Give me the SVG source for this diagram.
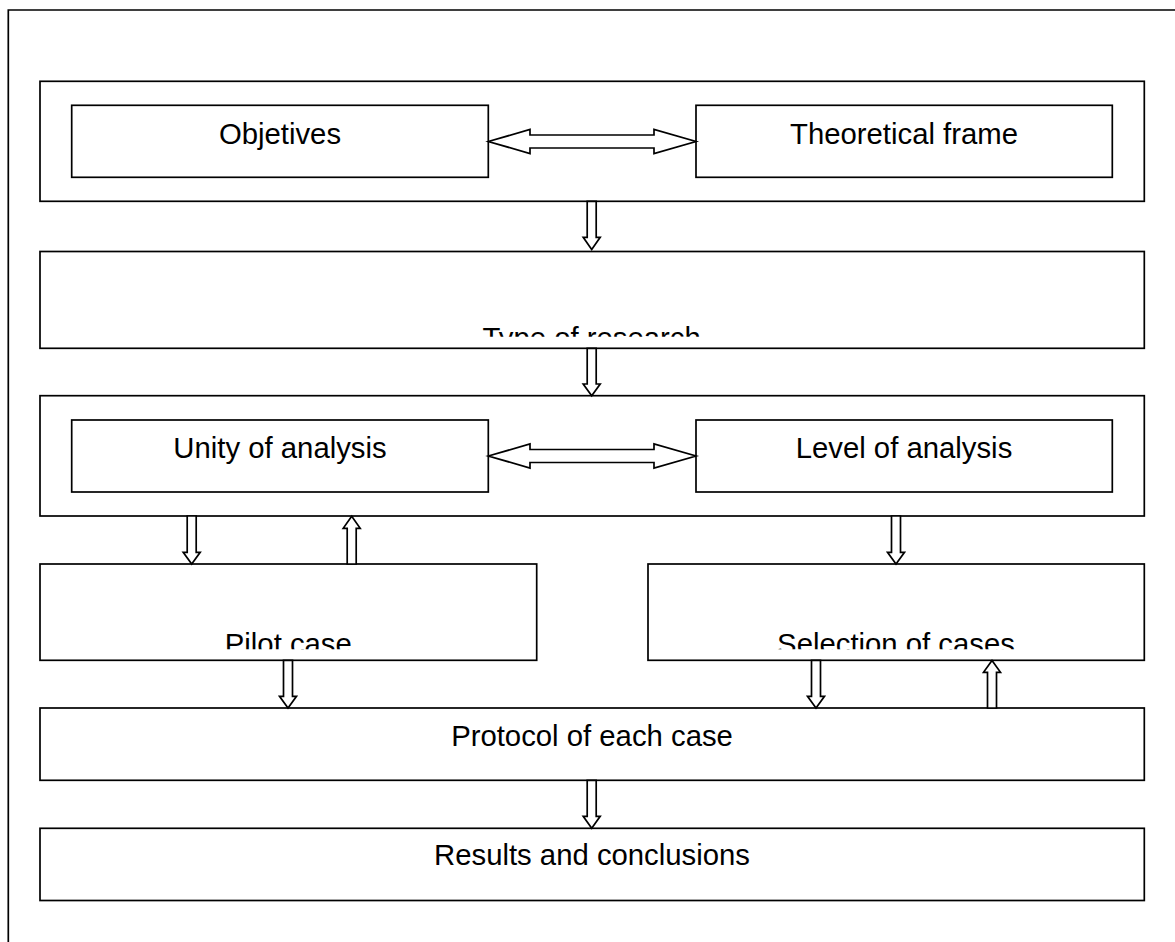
<svg xmlns="http://www.w3.org/2000/svg" width="1175" height="942" viewBox="0 0 1175 942">
<defs>
<style>
.box{fill:#fff;stroke:#000;stroke-width:1.7}
.arr{fill:#fff;stroke:#000;stroke-width:1.7;stroke-linejoin:miter}
.t{font-family:"Liberation Sans",Arial,sans-serif;font-size:29.3px;fill:#000;text-anchor:middle}
.frame{fill:none;stroke:#000;stroke-width:1.7}
</style>
<clipPath id="clipType"><rect x="40" y="250" width="1105" height="86.7"/></clipPath>
<clipPath id="clipPilot"><rect x="40" y="564" width="497" height="85.3"/></clipPath>
<clipPath id="clipSel"><rect x="648" y="564" width="497" height="85.3"/></clipPath>
</defs>
<rect width="1175" height="942" fill="#fff"/>
<path class="frame" d="M8.3,942 V10 H1180"/>

<g id="group-top">
<rect class="box" x="40" y="81.3" width="1104.3" height="120"/>
</g>
<g id="node-objetives">
<rect class="box" x="71.7" y="105.3" width="416.6" height="72"/>
<text class="t" x="280" y="144">Objetives</text>
</g>
<g id="node-theoretical">
<rect class="box" x="696" y="105.3" width="416.3" height="72"/>
<text class="t" x="904" y="144">Theoretical frame</text>
</g>
<g id="node-type">
<rect class="box" x="40" y="251.5" width="1104.3" height="96.8"/>
<text class="t" x="591.7" y="347.7" clip-path="url(#clipType)">Type of research</text>
</g>
<g id="group-analysis">
<rect class="box" x="40" y="395.7" width="1104.3" height="120.3"/>
</g>
<g id="node-unity">
<rect class="box" x="71.7" y="420" width="416.6" height="72"/>
<text class="t" x="280" y="457.5">Unity of analysis</text>
</g>
<g id="node-level">
<rect class="box" x="696" y="420" width="416.3" height="72"/>
<text class="t" x="904" y="457.5">Level of analysis</text>
</g>
<g id="node-pilot">
<rect class="box" x="40" y="564" width="496.7" height="96.3"/>
<text class="t" x="288.3" y="653.7" clip-path="url(#clipPilot)">Pilot case</text>
</g>
<g id="node-selection">
<rect class="box" x="648" y="564" width="496.3" height="96.3"/>
<text class="t" x="896" y="653.7" clip-path="url(#clipSel)">Selection of cases</text>
</g>
<g id="node-protocol">
<rect class="box" x="40" y="708" width="1104.3" height="72.3"/>
<text class="t" x="592" y="746">Protocol of each case</text>
</g>
<g id="node-results">
<rect class="box" x="40" y="828.3" width="1104.3" height="72.2"/>
<text class="t" x="592" y="864.5">Results and conclusions</text>
</g>

<g id="connectors">
<polygon class="arr" points="488.3,141.5 530,129.5 530,135 654,135 654,129.5 696,141.5 654,153.5 654,148 530,148 530,153.5"/>
<polygon class="arr" points="488.3,456 530,444 530,449.5 654,449.5 654,444 696,456 654,468 654,462.5 530,462.5 530,468"/>
<polygon class="arr" points="587.2,201.3 596.2,201.3 596.2,237.3 600.2,237.3 591.7,249.5 583.2,237.3 587.2,237.3"/>
<polygon class="arr" points="587.2,348.3 596.2,348.3 596.2,384 600.2,384 591.7,395.7 583.2,384 587.2,384"/>
<polygon class="arr" points="187.2,516 196.2,516 196.2,552.3 200.2,552.3 191.7,564 183.2,552.3 187.2,552.3"/>
<polygon class="arr" points="347.2,564 356.2,564 356.2,528.3 360.2,528.3 351.7,516.3 343.2,528.3 347.2,528.3"/>
<polygon class="arr" points="891.5,516 900.5,516 900.5,552.3 904.5,552.3 896,564 887.5,552.3 891.5,552.3"/>
<polygon class="arr" points="283.5,660.3 292.5,660.3 292.5,696.3 296.5,696.3 288,708 279.5,696.3 283.5,696.3"/>
<polygon class="arr" points="811.5,660.3 820.5,660.3 820.5,696.3 824.5,696.3 816,708 807.5,696.3 811.5,696.3"/>
<polygon class="arr" points="987.5,708 996.5,708 996.5,672.3 1000.5,672.3 992,660.5 983.5,672.3 987.5,672.3"/>
<polygon class="arr" points="587.2,780.3 596.2,780.3 596.2,816.3 600.2,816.3 591.7,828.3 583.2,816.3 587.2,816.3"/>
</g>
</svg>
